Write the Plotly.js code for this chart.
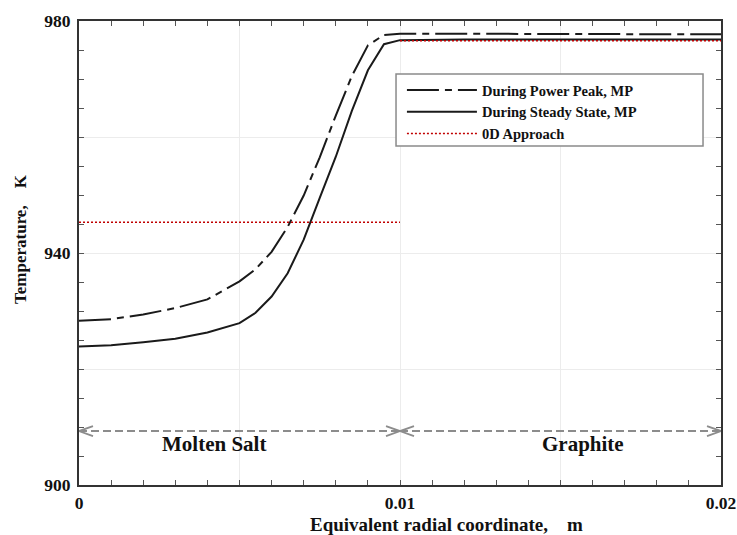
<!DOCTYPE html>
<html>
<head>
<meta charset="utf-8">
<script src="https://cdn.plot.ly/plotly-3.0.1.min.js"></script>
<style>html,body{margin:0;padding:0;background:#fff;}#chart{width:737px;height:535px;}</style>
</head>
<body>
<div id="chart"></div>
<script>
// Equivalent radial coordinate (m)
const radius = [0, 0.001, 0.002, 0.003, 0.004, 0.005, 0.0055, 0.006, 0.0065, 0.007, 0.0075, 0.008, 0.0085, 0.009, 0.0095, 0.010, 0.012, 0.014, 0.016, 0.018, 0.020];
// Temperature during power peak, MP (K)
const tempPeak = [928.3, 928.6, 929.4, 930.5, 932.0, 935.1, 937.2, 940.2, 944.5, 949.9, 956.5, 963.7, 970.5, 975.8, 977.6, 977.8, 977.8, 977.8, 977.7, 977.7, 977.7];
// Temperature during steady state, MP (K)
const tempSteady = [923.9, 924.1, 924.6, 925.2, 926.3, 927.9, 929.7, 932.5, 936.5, 942.3, 949.5, 956.6, 964.5, 971.5, 976.0, 976.7, 976.8, 976.8, 976.8, 976.8, 976.8];
// 0D approach (K): salt region, then graphite region
const zeroDx = [0, 0.010, null, 0.010, 0.020];
const zeroDy = [945.3, 945.3, null, 976.6, 976.6];

const seriesNames = ['During Power Peak, MP', 'During Steady State, MP', '0D Approach'];

const xTickVals = [0, 0.005, 0.010, 0.015, 0.020];
const xTickText = ['0', '', '0.01', '', '0.02'];
const yTickVals = [900, 920, 940, 960, 980];
const yTickText = ['900', '', '940', '', '980'];

const xTitle = 'Equivalent radial coordinate,    m';
const yTitle = 'Temperature,    K';

// Region annotation
const regionBounds = [0, 0.010, 0.020];
const regionLabels = ['Molten Salt', 'Graphite'];
const regionLabelX = [0.0042, 0.0157];
const regionArrowY = 909.3;
const regionLabelY = 907.0;

const serif = 'Liberation Serif, Times New Roman, serif';

const traces = [
  {x: radius, y: tempPeak, name: seriesNames[0], mode: 'lines',
   line: {color: '#1a1a1a', width: 2, dash: '32px,6px,7px,6px'}},
  {x: radius, y: tempSteady, name: seriesNames[1], mode: 'lines',
   line: {color: '#1a1a1a', width: 2}},
  {x: zeroDx, y: zeroDy, name: seriesNames[2], mode: 'lines', connectgaps: false,
   line: {color: '#c00000', width: 1.5, dash: '2px,2px'}}
];

const shapes = [];
const annotations = [];
for (let i = 0; i < regionLabels.length; i++) {
  const a = regionBounds[i], b = regionBounds[i + 1];
  shapes.push({type: 'line', xref: 'x', yref: 'y', x0: a, x1: b, y0: regionArrowY, y1: regionArrowY,
    line: {color: '#8c8c8c', width: 2, dash: '8px,4px'}});
  shapes.push({type: 'path', xref: 'x', yref: 'y', xsizemode: 'pixel', ysizemode: 'pixel',
    xanchor: a, yanchor: regionArrowY, path: 'M 14,5 L 0,0 L 14,-5',
    line: {color: '#8c8c8c', width: 1.8}});
  shapes.push({type: 'path', xref: 'x', yref: 'y', xsizemode: 'pixel', ysizemode: 'pixel',
    xanchor: b, yanchor: regionArrowY, path: 'M -14,5 L 0,0 L -14,-5',
    line: {color: '#8c8c8c', width: 1.8}});
  annotations.push({x: regionLabelX[i], y: regionLabelY, xref: 'x', yref: 'y', text: regionLabels[i],
    showarrow: false, font: {family: serif, size: 21, color: '#111', weight: 'bold'}});
}
// legend frame
shapes.push({type: 'rect', xref: 'paper', yref: 'paper', x0: 0.4938, x1: 0.972, y0: 0.7306, y1: 0.8858,
  fillcolor: '#fff', line: {color: '#8a8a8a', width: 1.5}, layer: 'above'});

// axis titles placed as annotations
annotations.push({xref: 'paper', yref: 'paper', x: -0.092, y: 0.53, xanchor: 'center', yanchor: 'middle',
  text: yTitle, textangle: -90,
  showarrow: false, font: {family: serif, size: 17, color: '#111', weight: 'bold'}});
annotations.push({xref: 'paper', yref: 'paper', x: 0.572, y: -0.0855, xanchor: 'center', yanchor: 'middle',
  text: xTitle,
  showarrow: false, font: {family: serif, size: 19, color: '#111', weight: 'bold'}});

const axisCommon = {
  showline: true, linecolor: '#333', linewidth: 2, mirror: 'allticks',
  ticks: 'inside', ticklen: 5, tickcolor: '#555', tickwidth: 1,
  showgrid: true, gridcolor: '#ececec', gridwidth: 1, zeroline: false,
  tickfont: {family: serif, size: 17.5, color: '#111', weight: 'bold'}
};

const layout = {
  width: 737, height: 535,
  margin: {l: 79, r: 16, t: 21, b: 50},
  paper_bgcolor: '#fff', plot_bgcolor: '#fff',
  showlegend: true,
  legend: {x: 0.503, y: 0.8858, xanchor: 'left', yanchor: 'top',
    bgcolor: 'rgba(0,0,0,0)', borderwidth: 0,
    font: {family: serif, size: 14.5, color: '#111', weight: 'bold'},
    tracegroupgap: 0, itemwidth: 70},
  xaxis: Object.assign({}, axisCommon, {
    range: [0, 0.02], tickmode: 'array', tickvals: xTickVals, ticktext: xTickText,
    ticklabelstandoff: 1,
    minor: {dtick: 0.001, ticks: 'inside', ticklen: 5, tickcolor: '#555', showgrid: false}
  }),
  yaxis: Object.assign({}, axisCommon, {
    range: [900, 980], tickmode: 'array', tickvals: yTickVals, ticktext: yTickText,
    ticklabelstandoff: 3,
    minor: {dtick: 5, ticks: 'inside', ticklen: 5, tickcolor: '#555', showgrid: false}
  }),
  shapes: shapes,
  annotations: annotations
};

Plotly.newPlot('chart', traces, layout, {displayModeBar: false, staticPlot: true});
</script>
</body>
</html>
